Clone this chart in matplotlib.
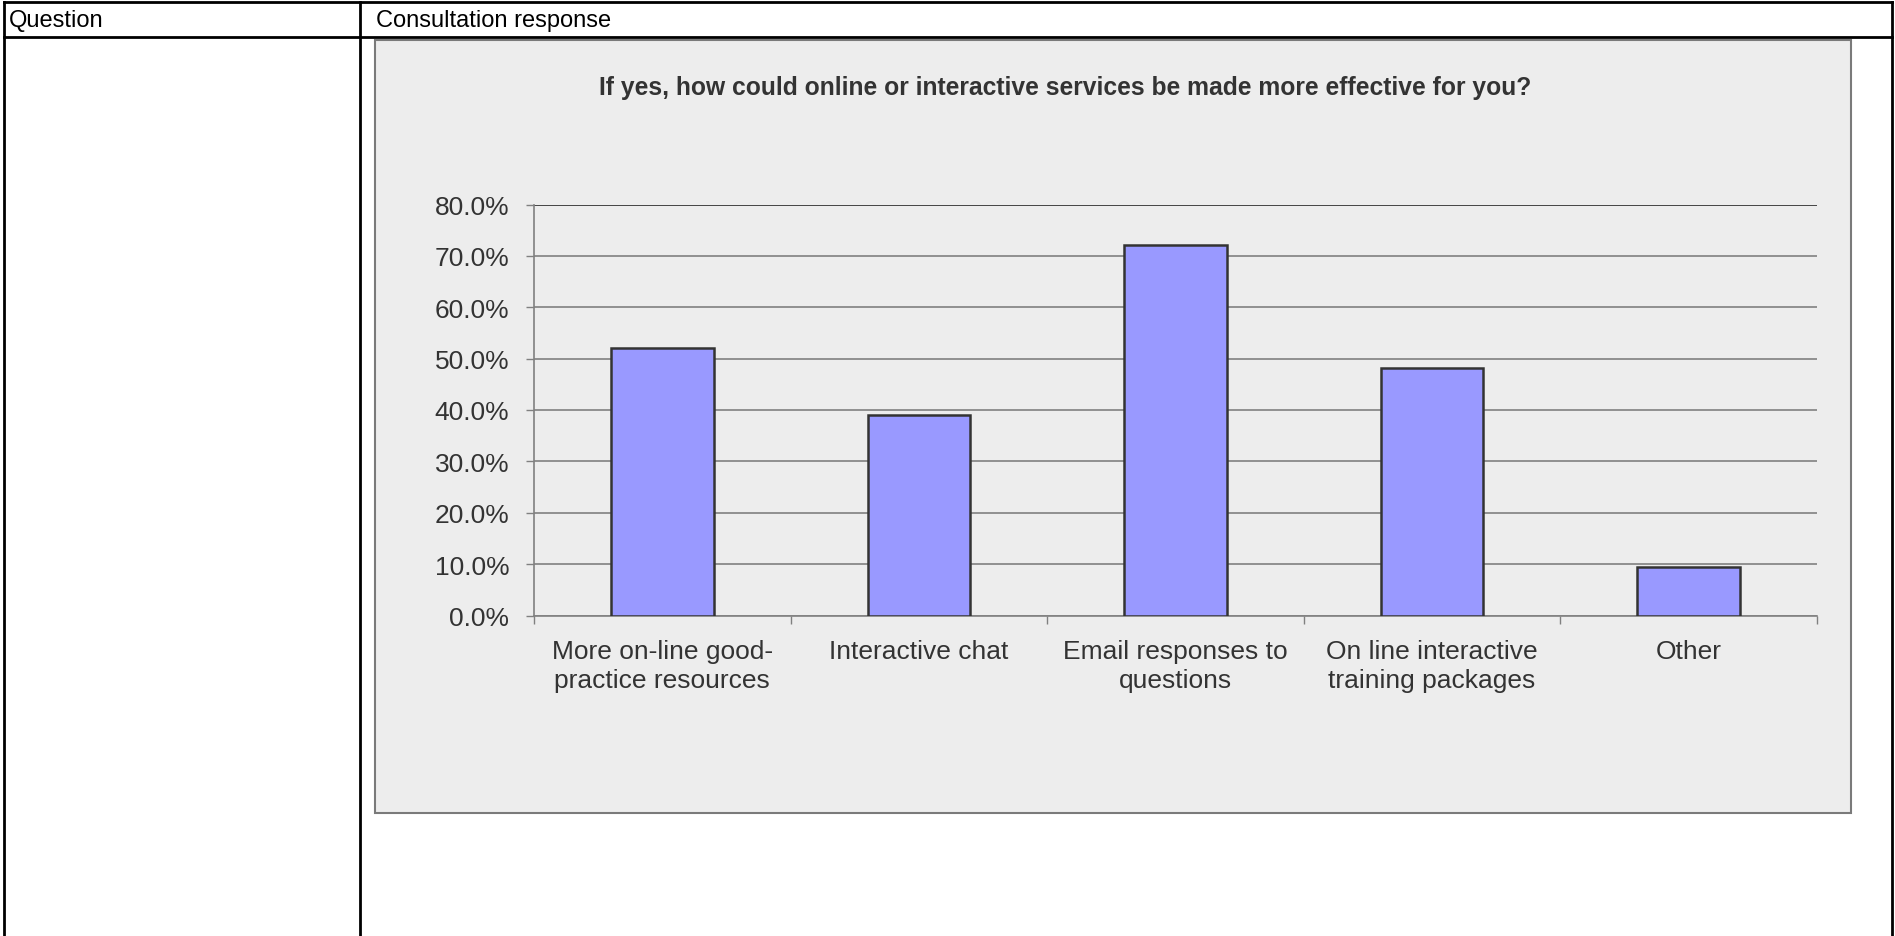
import matplotlib
matplotlib.use("Agg")
import matplotlib.pyplot as plt
from matplotlib.lines import Line2D
from matplotlib.patches import Rectangle
from matplotlib.ticker import FuncFormatter, FixedLocator

# Survey responses (share of respondents)
categories = [
    "More on-line good-\npractice resources",
    "Interactive chat",
    "Email responses to\nquestions",
    "On line interactive\ntraining packages",
    "Other",
]
shares = [0.520, 0.390, 0.722, 0.482, 0.094]
y_ticks = [0.0, 0.1, 0.2, 0.3, 0.4, 0.5, 0.6, 0.7, 0.8]
title = "If yes, how could online or interactive services be made more effective for you?"
header_left = "Question"
header_right = "Consultation response"

W, H = 1895, 937
FONT = "Liberation Sans"
TEXT = "#333333"
plt.rcParams["font.family"] = [FONT, "DejaVu Sans"]

fig = plt.figure(figsize=(W / 100, H / 100), dpi=100)
fig.patch.set_facecolor("white")


def fx(x):
    return x / W


def fy(y):
    return 1 - y / H


def fig_line(xs, ys, lw=2.0, color="black", z=5):
    fig.add_artist(Line2D([fx(v) for v in xs], [fy(v) for v in ys],
                          transform=fig.transFigure, color=color, lw=lw,
                          zorder=z, solid_capstyle="projecting"))


# Document table frame
fig_line([4, 4], [3, H + 5])
fig_line([1892, 1892], [3, H + 5])
fig_line([4, 1892], [3, 3])
fig_line([4, 1892], [37.5, 37.5])
fig_line([360, 360], [3, H + 5])

fig.text(fx(9), fy(21), header_left, fontsize=17, color="black",
         ha="left", va="center")
fig.text(fx(376), fy(21), header_right, fontsize=17, color="black",
         ha="left", va="center")

# Chart area panel
fig.add_artist(Rectangle((fx(374.5), fy(814)), (1851 - 374.5) / W, (814 - 40.5) / H,
                         transform=fig.transFigure, facecolor="#EDEDED",
                         edgecolor="#7a7a7a", lw=1.5, zorder=0))

fig.text(fx(1065), fy(88), title, fontsize=17.7, fontweight="bold",
         color=TEXT, ha="center", va="center")

# Plot area
left, right, top, bottom = 534, 1817, 205.5, 616.5
ax = fig.add_axes([fx(left), fy(bottom), (right - left) / W, (bottom - top) / H])
ax.set_facecolor("none")

x = list(range(len(categories)))
ax.bar(x, shares, width=0.4, color="#9999FF", edgecolor="#333333",
       linewidth=1.8, zorder=3)

ax.set_xlim(-0.5, len(categories) - 0.5)
ax.set_ylim(0, 0.8)
ax.yaxis.set_major_locator(FixedLocator(y_ticks))
ax.yaxis.set_major_formatter(FuncFormatter(lambda v, p: f"{v * 100:.1f}%"))
ax.grid(axis="y", color="#808080", lw=1.2, zorder=1)
ax.axhline(0.8, color="#333333", lw=1.1, zorder=2)

# Category boundaries carry the tick marks, labels sit at the centres
ax.set_xticks([i - 0.5 for i in range(len(categories) + 1)])
ax.set_xticklabels([])
ax.set_xticks(x, minor=True)
ax.set_xticklabels(categories, minor=True, fontsize=19, color=TEXT,
                   linespacing=1.25)
ax.tick_params(axis="x", which="major", length=5.5, width=1, color="#808080",
               direction="out")
ax.tick_params(axis="x", which="minor", length=0, pad=16.8)
ax.tick_params(axis="y", length=5.8, width=1, color="#808080", labelsize=19,
               labelcolor=TEXT, pad=12)

for s in ["top", "right"]:
    ax.spines[s].set_visible(False)
for s in ["left", "bottom"]:
    ax.spines[s].set_color("#808080")
    ax.spines[s].set_linewidth(1.2)

fig.savefig("out.png", dpi=100, facecolor="white")
